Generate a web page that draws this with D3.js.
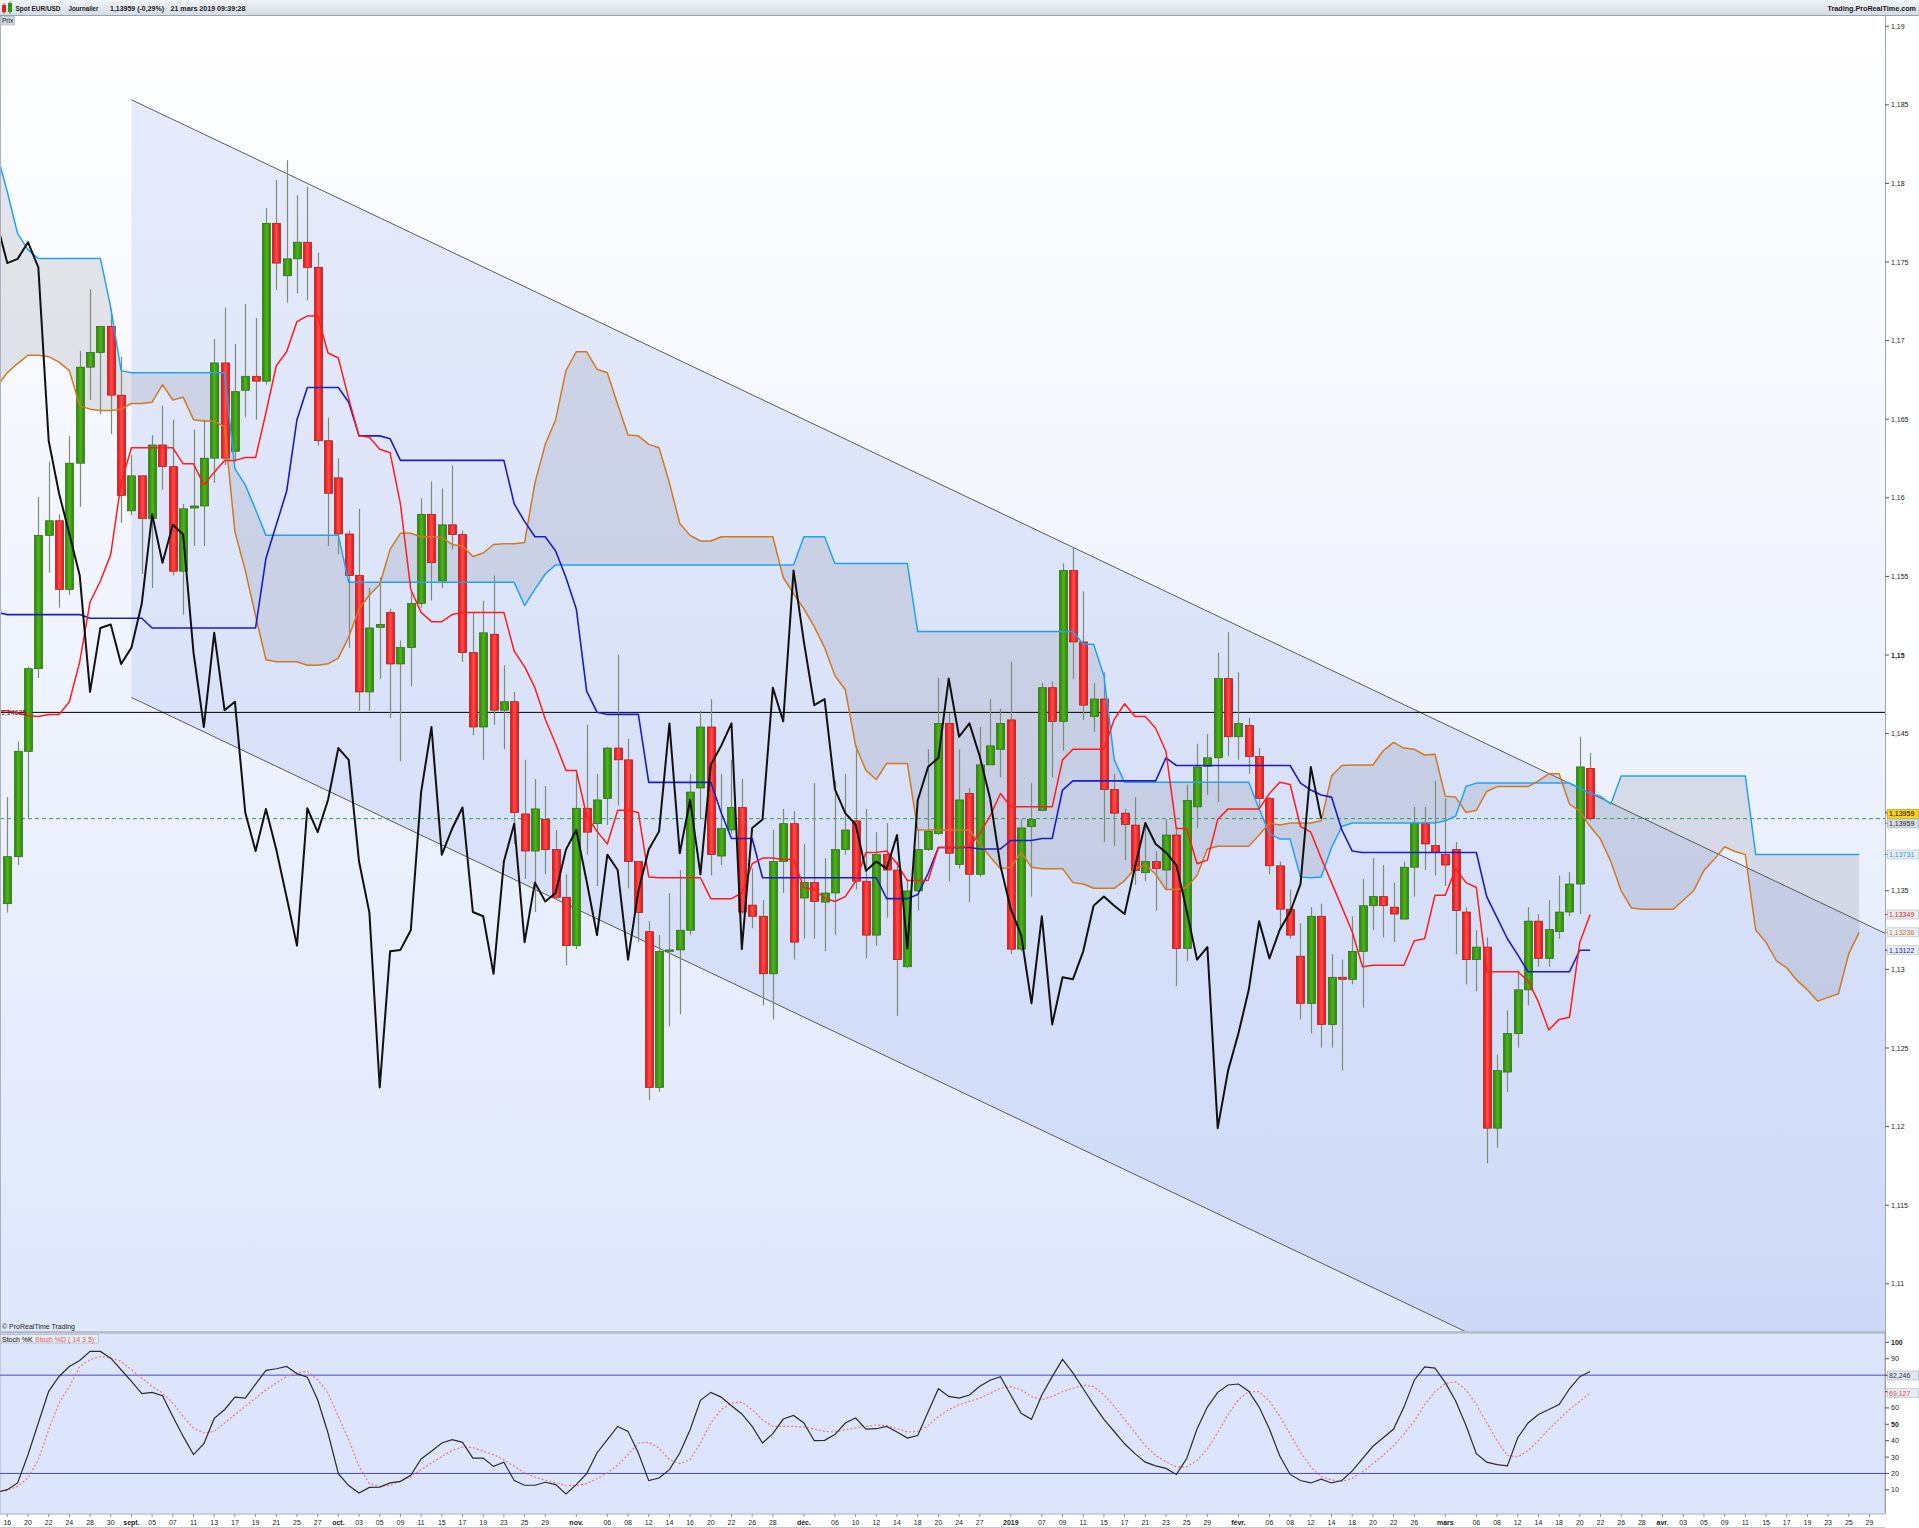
<!DOCTYPE html>
<html><head><meta charset="utf-8">
<script src="https://cdn.jsdelivr.net/npm/d3@7/dist/d3.min.js"></script>
<style>
html,body{margin:0;padding:0;background:#fff;}
svg{display:block;}
text{font-family:"Liberation Sans",Arial,sans-serif;}
</style></head><body>
<svg id="chart" width="1919" height="1528"></svg>
<script>
// ---------------- DATA ----------------
const candleStart = "2018-08-16";   // first candle
const lineStart = "2018-08-15";     // first indicator point
const holidays = ["2018-12-25", "2019-01-01"];

const open = [1.13418,1.13717,1.14387,1.14913,1.15761,1.15854,1.15417,1.16220,1.16831,1.16925,
1.17090,1.16653,1.15917,1.16140,1.15868,1.16336,1.16198,1.15533,1.15935,1.15948,
1.16252,1.16858,1.16296,1.16684,1.16773,1.16742,1.17746,1.17412,1.17520,1.17626,
1.17466,1.16363,1.16127,1.15770,1.15506,1.14765,1.15176,1.15271,1.14943,1.15047,
1.15328,1.15895,1.15471,1.15828,1.15766,1.15015,1.14542,1.15132,1.14649,1.14703,
1.13989,1.13753,1.13954,1.13762,1.13459,1.13151,1.14025,1.13927,1.14087,1.14408,
1.14333,1.13686,1.13240,1.12249,1.13115,1.13124,1.13249,1.14154,1.14542,1.13721,
1.13887,1.14030,1.13409,1.13338,1.12972,1.13686,1.13927,1.13454,1.13552,1.13428,
1.13486,1.13762,1.13945,1.13561,1.13218,1.13730,1.13632,1.13017,1.13499,1.13762,
1.13864,1.14565,1.13668,1.14119,1.13605,1.14301,1.14400,1.14587,1.13129,1.13909,
1.14012,1.14792,1.14578,1.15538,1.15083,1.14609,1.14720,1.14145,1.13994,1.13918,
1.13615,1.13686,1.13632,1.13855,1.13133,1.14034,1.14292,1.14346,1.14850,1.14480,
1.14551,1.14355,1.14087,1.13659,1.13383,1.13084,1.12784,1.13338,1.12650,1.12950,
1.12937,1.13115,1.13405,1.13463,1.13396,1.13320,1.13650,1.13931,1.13789,1.13730,
1.13762,1.13365,1.13062,1.13142,1.11990,1.12347,1.12592,1.12870,1.13307,1.13070,
1.13240,1.13365,1.13543,1.14279];

const high = [1.14096,1.14449,1.14926,1.16006,1.16229,1.15895,1.16394,1.16934,1.17327,1.17094,
1.17201,1.16898,1.16274,1.16140,1.16398,1.16586,1.16497,1.15961,1.16434,1.16497,
1.17010,1.17210,1.16978,1.17233,1.17144,1.17844,1.18023,1.18148,1.17925,1.17978,
1.17559,1.16510,1.16252,1.15792,1.15930,1.15426,1.15493,1.15293,1.15092,1.15404,
1.15997,1.16104,1.16059,1.16207,1.15792,1.15271,1.15346,1.15506,1.14935,1.14765,
1.14333,1.14212,1.14167,1.13887,1.13605,1.14244,1.14556,1.14244,1.14417,1.15002,
1.14467,1.13686,1.13307,1.13218,1.13486,1.13632,1.14244,1.14645,1.14720,1.14244,
1.14333,1.14212,1.13641,1.13441,1.13887,1.14021,1.14007,1.13798,1.14185,1.13708,
1.14199,1.14244,1.14422,1.14021,1.13873,1.13931,1.13686,1.13575,1.13887,1.14400,
1.14854,1.14631,1.14400,1.14154,1.14542,1.14720,1.14658,1.14957,1.13954,1.14185,
1.14823,1.14832,1.15583,1.15685,1.15404,1.14823,1.14890,1.14244,1.14021,1.14096,
1.13931,1.13753,1.13954,1.13900,1.14176,1.14435,1.14498,1.15015,1.15145,1.14890,
1.14600,1.14408,1.14096,1.13686,1.13508,1.13294,1.13396,1.13418,1.13097,1.13062,
1.13338,1.13575,1.13708,1.13664,1.13552,1.13686,1.14034,1.14034,1.14199,1.14087,
1.13811,1.13396,1.13249,1.13204,1.12458,1.12740,1.12995,1.13396,1.13352,1.13441,
1.13597,1.13619,1.14480,1.14378];

const low = [1.13361,1.13664,1.13954,1.14854,1.15524,1.15301,1.15382,1.15943,1.16622,1.16532,
1.16407,1.15841,1.15890,1.15515,1.15426,1.16051,1.15506,1.15257,1.15694,1.15694,
1.16095,1.16207,1.16229,1.16514,1.16497,1.16720,1.17323,1.17242,1.17300,1.17255,
1.16332,1.15694,1.15640,1.15047,1.14645,1.14645,1.14846,1.14600,1.14324,1.14801,
1.15301,1.15346,1.15426,1.15672,1.14957,1.14489,1.14333,1.14556,1.14400,1.13798,
1.13575,1.13365,1.13605,1.13441,1.13026,1.13129,1.13730,1.13530,1.13918,1.14043,
1.13516,1.13173,1.12169,1.12222,1.12637,1.12713,1.13218,1.13954,1.13597,1.13664,
1.13864,1.13352,1.13262,1.12771,1.12682,1.13486,1.13062,1.13195,1.13195,1.13115,
1.13218,1.13730,1.13508,1.13070,1.13151,1.13329,1.12704,1.13008,1.13374,1.13753,
1.13855,1.13561,1.13641,1.13427,1.13588,1.14301,1.14221,1.13097,1.13115,1.13463,
1.14007,1.14221,1.14391,1.14846,1.14587,1.14511,1.13811,1.13784,1.13695,1.13539,
1.13561,1.13374,1.13508,1.12892,1.13053,1.13900,1.14110,1.14065,1.14355,1.14333,
1.14244,1.14034,1.13605,1.13262,1.13195,1.12682,1.12592,1.12503,1.12503,1.12356,
1.12905,1.12757,1.13249,1.13204,1.13173,1.13320,1.13463,1.13632,1.13597,1.13530,
1.13097,1.12905,1.12860,1.11767,1.11865,1.12222,1.12503,1.12771,1.13017,1.13017,
1.13195,1.13338,1.13352,1.13945];

const close = [1.13717,1.14387,1.14913,1.15761,1.15854,1.15417,1.16220,1.16831,1.16925,1.17090,
1.16653,1.16015,1.16140,1.15868,1.16336,1.16198,1.15533,1.15930,1.15948,1.16252,
1.16858,1.16252,1.16675,1.16773,1.16742,1.17746,1.17493,1.17520,1.17626,1.17466,
1.16363,1.16029,1.15770,1.15506,1.14765,1.15172,1.15194,1.14943,1.15047,1.15328,
1.15895,1.15587,1.15828,1.15766,1.15015,1.14542,1.15141,1.14649,1.14703,1.13998,
1.13753,1.14021,1.13762,1.13459,1.13151,1.14025,1.13873,1.14078,1.14408,1.14333,
1.13686,1.13361,1.12249,1.13115,1.13124,1.13249,1.14128,1.14542,1.13730,1.13896,
1.14030,1.13365,1.13338,1.12972,1.13686,1.13927,1.13173,1.13552,1.13432,1.13486,
1.13762,1.13887,1.13561,1.13218,1.13730,1.13632,1.13062,1.13499,1.13762,1.13878,
1.14565,1.13739,1.14078,1.13605,1.14301,1.14422,1.14565,1.13129,1.13900,1.13954,
1.14792,1.14578,1.15538,1.15083,1.14681,1.14720,1.14145,1.13994,1.13922,1.13628,
1.13686,1.13641,1.13855,1.13133,1.14074,1.14288,1.14346,1.14850,1.14480,1.14565,
1.14355,1.14087,1.13659,1.13383,1.13218,1.12784,1.13338,1.12650,1.12950,1.12937,
1.13115,1.13405,1.13463,1.13405,1.13352,1.13650,1.13931,1.13798,1.13744,1.13664,
1.13374,1.13062,1.13142,1.11990,1.12356,1.12592,1.12870,1.13307,1.13070,1.13253,
1.13365,1.13543,1.14288,1.13959];

// Ichimoku (from 2018-08-15)
const tenkan = [1.14645,
1.14645,1.14631,1.14614,1.14609,1.14622,1.14622,1.14703,1.14957,1.15337,1.15471,
1.15640,1.16095,1.16318,1.16318,1.16318,1.16318,1.16318,1.16216,1.16216,1.16082,
1.16162,1.16238,1.16238,1.16256,1.16256,1.16541,1.16840,1.16929,1.17121,1.17157,
1.17157,1.16921,1.16889,1.16631,1.16394,1.16385,1.16309,1.16287,1.15961,1.15417,
1.15271,1.15212,1.15212,1.15257,1.15271,1.15271,1.15271,1.15271,1.15271,1.15024,
1.14926,1.14792,1.14591,1.14435,1.14266,1.14266,1.13976,1.13878,1.13798,1.14012,
1.14012,1.13998,1.13588,1.13583,1.13583,1.13583,1.13583,1.13583,1.13450,1.13450,
1.13450,1.13486,1.13672,1.13708,1.13708,1.13699,1.13699,1.13521,1.13508,1.13454,
1.13432,1.13463,1.13561,1.13744,1.13744,1.13753,1.13672,1.13565,1.13565,1.13565,
1.13775,1.13775,1.13775,1.13784,1.13864,1.13976,1.14119,1.14034,1.14034,1.14034,
1.14034,1.14034,1.14333,1.14400,1.14400,1.14400,1.14400,1.14591,1.14690,1.14609,
1.14609,1.14534,1.14386,1.13896,1.13896,1.13672,1.13695,1.13954,1.14021,1.14021,
1.14021,1.14021,1.14119,1.14190,1.14176,1.13909,1.13873,1.13708,1.13552,1.13396,
1.13240,1.13017,1.13026,1.13026,1.13026,1.13026,1.13182,1.13195,1.13472,1.13472,
1.13641,1.13552,1.13521,1.12985,1.12985,1.12985,1.12985,1.12927,1.12793,1.12615,
1.12682,1.12695,1.13173,1.13349];

const kijun = [1.15271,
1.15257,1.15257,1.15257,1.15257,1.15257,1.15257,1.15257,1.15257,1.15234,1.15234,
1.15234,1.15234,1.15234,1.15234,1.15172,1.15172,1.15172,1.15172,1.15172,1.15172,
1.15172,1.15172,1.15172,1.15172,1.15172,1.15614,1.15828,1.16041,1.16497,1.16702,
1.16702,1.16702,1.16702,1.16608,1.16394,1.16394,1.16394,1.16376,1.16238,1.16238,
1.16238,1.16238,1.16238,1.16238,1.16238,1.16238,1.16238,1.16238,1.16238,1.15961,
1.15850,1.15752,1.15752,1.15662,1.15493,1.15293,1.14770,1.14636,1.14622,1.14622,
1.14622,1.14622,1.14190,1.14190,1.14190,1.14190,1.14190,1.14190,1.14190,1.13998,
1.13833,1.13833,1.13833,1.13583,1.13583,1.13583,1.13583,1.13583,1.13583,1.13583,
1.13583,1.13583,1.13583,1.13583,1.13583,1.13450,1.13450,1.13450,1.13476,1.13610,
1.13775,1.13775,1.13775,1.13775,1.13766,1.13766,1.13766,1.13820,1.13820,1.13820,
1.13833,1.13833,1.14141,1.14199,1.14199,1.14199,1.14199,1.14199,1.14199,1.14199,
1.14199,1.14199,1.14346,1.14297,1.14297,1.14297,1.14297,1.14297,1.14297,1.14297,
1.14297,1.14297,1.14297,1.14297,1.14297,1.14185,1.14141,1.14110,1.14096,1.13887,
1.13753,1.13744,1.13744,1.13744,1.13744,1.13744,1.13744,1.13744,1.13744,1.13744,
1.13744,1.13744,1.13744,1.13463,1.13329,1.13195,1.13092,1.12985,1.12985,1.12985,
1.12985,1.12985,1.13122,1.13122];

const senkouA = [1.16710,
1.16796,1.16854,1.16907,1.16907,1.16898,1.16863,1.16809,1.16586,1.16564,1.16555,
1.16555,1.16564,1.16600,1.16600,1.16608,1.16720,1.16622,1.16640,1.16497,1.16488,
1.16488,1.16452,1.15783,1.15538,1.15248,1.14970,1.14957,1.14957,1.14957,1.14935,
1.14935,1.14944,1.14980,1.15114,1.15293,1.15382,1.15448,1.15672,1.15774,1.15774,
1.15752,1.15752,1.15747,1.15703,1.15694,1.15627,1.15649,1.15703,1.15707,1.15707,
1.15716,1.16095,1.16340,1.16497,1.16809,1.16929,1.16929,1.16818,1.16796,1.16595,
1.16399,1.16394,1.16340,1.16318,1.16095,1.15837,1.15761,1.15725,1.15725,1.15752,
1.15752,1.15752,1.15752,1.15752,1.15752,1.15493,1.15390,1.15293,1.15181,1.15047,
1.14868,1.14779,1.14422,1.14266,1.14208,1.14310,1.14310,1.14310,1.13887,1.13887,
1.13887,1.13887,1.13887,1.13887,1.13798,1.13717,1.13641,1.13650,1.13744,1.13650,
1.13641,1.13641,1.13641,1.13552,1.13543,1.13516,1.13516,1.13516,1.13565,1.13641,
1.13664,1.13605,1.13508,1.13508,1.13521,1.13597,1.13766,1.13784,1.13784,1.13784,
1.13784,1.13855,1.13931,1.13918,1.13931,1.13931,1.13931,1.13945,1.14230,1.14297,
1.14301,1.14301,1.14301,1.14391,1.14444,1.14408,1.14400,1.14364,1.14369,1.14101,
1.14096,1.13998,1.14012,1.14132,1.14163,1.14163,1.14163,1.14163,1.14199,1.14244,
1.14244,1.14052,1.14007,1.13909,1.13829,1.13686,1.13499,1.13390,1.13382,1.13382,
1.13382,1.13382,1.13440,1.13500,1.13630,1.13700,1.13780,1.13750,1.13730,1.13250,
1.13172,1.13055,1.13010,1.12930,1.12870,1.12798,1.12822,1.12845,1.13100,1.13236];

const senkouB = [1.18190,
1.17947,1.17680,1.17577,1.17523,1.17523,1.17523,1.17523,1.17523,1.17523,1.17523,
1.17210,1.16809,1.16796,1.16796,1.16796,1.16796,1.16796,1.16796,1.16796,1.16796,
1.16796,1.16796,1.16185,1.16082,1.15926,1.15761,1.15761,1.15761,1.15761,1.15761,
1.15761,1.15761,1.15761,1.15462,1.15462,1.15462,1.15462,1.15462,1.15462,1.15462,
1.15462,1.15462,1.15462,1.15462,1.15462,1.15462,1.15462,1.15462,1.15462,1.15462,
1.15315,1.15417,1.15515,1.15573,1.15573,1.15573,1.15573,1.15573,1.15573,1.15573,
1.15573,1.15573,1.15573,1.15573,1.15573,1.15573,1.15573,1.15573,1.15573,1.15573,
1.15573,1.15573,1.15573,1.15573,1.15573,1.15573,1.15573,1.15752,1.15752,1.15752,
1.15582,1.15582,1.15582,1.15582,1.15582,1.15582,1.15582,1.15582,1.15149,1.15149,
1.15149,1.15149,1.15149,1.15149,1.15149,1.15149,1.15149,1.15149,1.15149,1.15149,
1.15149,1.15149,1.15149,1.15149,1.15069,1.15069,1.14868,1.14333,1.14190,1.14190,
1.14190,1.14190,1.14190,1.14190,1.14190,1.14190,1.14190,1.14190,1.14190,1.14190,
1.14190,1.14021,1.13864,1.13829,1.13829,1.13588,1.13583,1.13588,1.13775,1.13909,
1.13931,1.13931,1.13931,1.13931,1.13931,1.13931,1.13931,1.13931,1.13931,1.13945,
1.13976,1.14163,1.14185,1.14185,1.14185,1.14185,1.14185,1.14185,1.14185,1.14185,
1.14185,1.14185,1.14154,1.14119,1.14101,1.14052,1.14231,1.14231,1.14231,1.14231,
1.14231,1.14231,1.14231,1.14231,1.14231,1.14231,1.14231,1.14231,1.14231,1.13731,
1.13731,1.13731,1.13731,1.13731,1.13731,1.13731,1.13731,1.13731,1.13731,1.13731];

const chikouShift = 26;

// Stochastic (14 3 5), from 2018-08-15
const stochK = [8.5,
10.1,14.2,31.4,50.8,70.1,79.2,85.3,89.0,94.5,94.5,
90.4,83.3,76.2,68.7,69.5,67.4,54.8,42.6,31.5,38.2,
53.6,58.9,66.6,66.0,74.5,82.9,83.9,85.3,80.9,78.8,
65.0,44.7,19.9,12.6,8.1,11.5,11.7,14.2,15.2,18.9,
28.8,33.5,38.6,40.6,39.0,29.4,29.4,24.3,26.8,15.6,
12.8,12.8,14.6,13.2,7.5,13.2,19.9,32.5,40.6,48.7,
45.7,32.5,15.6,17.2,22.3,32.5,46.7,64.6,69.5,66.6,
61.3,56.3,48.7,38.6,44.3,53.2,55.4,50.8,40.0,40.2,
43.7,50.8,53.8,47.1,47.3,48.7,45.3,41.6,43.1,57.5,
71.7,67.0,66.0,67.9,73.2,76.9,79.1,67.9,56.7,53.0,
67.9,79.1,89.6,81.4,71.7,62.0,53.0,45.6,38.1,32.1,
26.9,24.6,23.1,19.4,29.1,47.1,60.5,69.5,74.0,74.6,
70.2,60.5,47.1,30.6,19.4,15.7,14.2,16.5,14.2,15.7,
21.6,29.1,36.6,41.8,47.1,60.5,76.9,85.1,84.3,75.4,
64.2,49.3,32.1,26.9,25.4,24.6,41.8,50.8,56.0,59.0,
62.0,71.7,79.1,82.246];

const stochD = [9.0,
9.7,12.1,17.2,28.4,46.7,63.0,73.1,85.3,89.4,91.4,
90.4,88.4,83.3,78.2,73.1,69.1,63.0,54.8,47.7,44.7,
45.7,50.8,55.9,60.9,66.0,71.1,75.2,79.2,81.6,82.3,
77.2,69.1,54.8,40.6,24.3,13.8,12.1,12.8,15.2,18.3,
22.3,26.4,30.4,34.1,36.1,35.9,33.5,31.5,28.4,24.3,
20.3,17.8,15.8,14.2,12.8,12.6,13.8,16.8,20.3,25.0,
31.5,38.6,39.0,35.5,28.4,26.0,28.4,38.6,50.8,58.9,
63.0,63.6,58.9,52.8,48.7,48.7,48.7,48.3,47.1,45.7,
45.3,46.7,47.7,48.7,49.6,49.2,47.3,45.3,45.7,49.2,
54.8,58.9,62.0,64.0,66.0,69.0,72.0,73.0,71.0,67.0,
65.0,67.0,70.0,72.0,74.0,73.0,68.0,61.0,53.0,45.0,
37.0,31.0,27.0,24.0,24.0,28.0,35.0,45.0,56.0,65.0,
70.0,70.0,64.0,55.0,44.0,33.0,24.0,18.0,16.0,15.0,
17.0,21.0,26.0,31.0,37.0,44.0,52.0,62.0,70.0,75.0,
76.0,71.0,62.0,51.0,40.0,31.0,30.0,34.0,40.0,47.0,
53.0,59.0,64.0,69.127];

// Trend channel anchors [date, price]
const channelTop = [["2018-09-03", 1.18532], ["2019-03-21", 1.14121]];
const channelBottom = [["2018-09-03", 1.14730], ["2019-03-21", 1.10319]];
const levelLine = 1.14635;
const lastPrice = 1.13959;

const priceTicks = [1.19,1.185,1.18,1.175,1.17,1.165,1.16,1.155,1.15,1.145,1.14,1.135,1.13,1.125,1.12,1.115,1.11];
const priceTickLabels = ["1,19","1,185","1,18","1,175","1,17","1,165","1,16","1,155","1,15","1,145","1,14","1,135","1,13","1,125","1,12","1,115","1,11"];
const stochTicks = [100,90,80,70,60,50,40,30,20,10];
const stochLevels = [80, 20];

const headerTexts = ["Spot EUR/USD", "Journalier", "1,13959 (-0,29%)", "21 mars 2019 09:39:28"];
const headerRight = "Trading.ProRealTime.com";

const tickDates = ["2018-08-16","2018-08-20","2018-08-22","2018-08-24","2018-08-28","2018-08-30",
"2018-09-03","2018-09-05","2018-09-07","2018-09-11","2018-09-13","2018-09-17","2018-09-19","2018-09-21","2018-09-25","2018-09-27",
"2018-10-01","2018-10-03","2018-10-05","2018-10-09","2018-10-11","2018-10-15","2018-10-17","2018-10-19","2018-10-23","2018-10-25","2018-10-29",
"2018-11-01","2018-11-06","2018-11-08","2018-11-12","2018-11-14","2018-11-16","2018-11-20","2018-11-22","2018-11-26","2018-11-28",
"2018-12-03","2018-12-06","2018-12-10","2018-12-12","2018-12-14","2018-12-18","2018-12-20","2018-12-24","2018-12-27",
"2019-01-02","2019-01-07","2019-01-09","2019-01-11","2019-01-15","2019-01-17","2019-01-21","2019-01-23","2019-01-25","2019-01-29",
"2019-02-01","2019-02-06","2019-02-08","2019-02-12","2019-02-14","2019-02-18","2019-02-20","2019-02-22","2019-02-26",
"2019-03-01","2019-03-06","2019-03-08","2019-03-12","2019-03-14","2019-03-18","2019-03-20","2019-03-22","2019-03-26","2019-03-28",
"2019-04-01","2019-04-03","2019-04-05","2019-04-09","2019-04-11","2019-04-15","2019-04-17","2019-04-19","2019-04-23","2019-04-25","2019-04-29"];
const tickLabels = ["16","20","22","24","28","30",
"sept.","05","07","11","13","17","19","21","25","27",
"oct.","03","05","09","11","15","17","19","23","25","29",
"nov.","06","08","12","14","16","20","22","26","28",
"déc.","06","10","12","14","18","20","24","27",
"2019","07","09","11","15","17","21","23","25","29",
"févr.","06","08","12","14","18","20","22","26",
"mars","06","08","12","14","18","20","22","26","28",
"avr.","03","05","09","11","15","17","19","23","25","29"];

// ---------------- LAYOUT ----------------
const W = 1919, H = 1528, PR = 1885;
const MAIN_T = 16, MAIN_B = 1331, ST_T = 1333, ST_B = 1514;

const days = [];
for (let t = Date.UTC(2018, 7, 15); t <= Date.UTC(2019, 3, 30); t += 864e5) {
  const d = new Date(t), wd = d.getUTCDay(), s = d.toISOString().slice(0, 10);
  if (wd !== 0 && wd !== 6 && !holidays.includes(s)) days.push(s);
}
const origin = days.indexOf(candleStart);
const idx = s => days.indexOf(s) - origin;
const c0 = idx(candleStart), l0 = idx(lineStart);

const x = d3.scaleLinear().domain([-0.7056, 181.5]).range([0, PR]);
const y = d3.scaleLinear().domain([1.11, 1.19]).range([1283.8, 26.2]);
const ys = d3.scaleLinear().domain([0, 100]).range([1506.2, 1342.4]);

const svg = d3.select("#chart");
const defs = svg.append("defs");
function lg(id, stops, vertical) {
  const g = defs.append("linearGradient").attr("id", id)
    .attr("x1", 0).attr("y1", 0).attr("x2", vertical ? 0 : 1).attr("y2", vertical ? 1 : 0);
  stops.forEach(s => g.append("stop").attr("offset", s[0]).attr("stop-color", s[1]));
}
lg("bg", [[0, "#ffffff"], [1, "#dfe7fb"]], true);
lg("hdr", [[0, "#f2f5f8"], [1, "#d2dae4"]], true);
lg("gbody", [[0, "#2a8608"], [0.5, "#4fb21d"], [1, "#2a8608"]], false);
lg("rbody", [[0, "#e41212"], [0.5, "#ff4c4c"], [1, "#e41212"]], false);
defs.append("clipPath").attr("id", "clipMain").append("rect")
  .attr("x", 0).attr("y", MAIN_T).attr("width", PR).attr("height", MAIN_B - MAIN_T);
defs.append("clipPath").attr("id", "clipSt").append("rect")
  .attr("x", 0).attr("y", ST_T).attr("width", PR).attr("height", ST_B - ST_T);

svg.append("rect").attr("width", W).attr("height", H).attr("fill", "#ffffff");

// main panel
svg.append("rect").attr("x", 0).attr("y", MAIN_T).attr("width", PR).attr("height", MAIN_B - MAIN_T).attr("fill", "url(#bg)");
const gm = svg.append("g").attr("clip-path", "url(#clipMain)");

// channel
function chanAt(anchors, i) {
  const i1 = idx(anchors[0][0]), i2 = idx(anchors[1][0]);
  return anchors[0][1] + (anchors[1][1] - anchors[0][1]) * (i - i1) / (i2 - i1);
}
const cs = idx(channelTop[0][0]), ce = 181.5;
gm.append("path")
  .attr("d", d3.line()([[x(cs), y(chanAt(channelTop, cs))], [x(ce), y(chanAt(channelTop, ce))],
    [x(ce), y(chanAt(channelBottom, ce))], [x(cs), y(chanAt(channelBottom, cs))]]) + "Z")
  .attr("fill", "rgba(140,165,235,0.20)");

// cloud
const cloud = senkouA.map((a, k) => ({ i: l0 + k, a: a, b: senkouB[k] }));
gm.append("path").datum(cloud)
  .attr("d", d3.area().x(d => x(d.i)).y0(d => y(d.a)).y1(d => y(d.b)))
  .attr("fill", "rgba(115,115,130,0.17)");

[channelTop, channelBottom].forEach(ch => {
  gm.append("line").attr("x1", x(cs)).attr("y1", y(chanAt(ch, cs)))
    .attr("x2", x(ce)).attr("y2", y(chanAt(ch, ce)))
    .attr("stroke", "#4a4a4a").attr("stroke-width", 0.9);
});

// horizontal level lines
gm.append("line").attr("x1", 0).attr("x2", PR).attr("y1", y(levelLine)).attr("y2", y(levelLine))
  .attr("stroke", "#000").attr("stroke-width", 1);
gm.append("line").attr("x1", 0).attr("x2", PR).attr("y1", y(lastPrice)).attr("y2", y(lastPrice))
  .attr("stroke", "#2aa24e").attr("stroke-width", 1).attr("stroke-dasharray", "4,3");

// candles
const candles = open.map((o, k) => ({ i: c0 + k, o: o, h: high[k], l: low[k], c: close[k] }));
const cg = gm.append("g");
cg.selectAll("line.wick").data(candles).join("line").attr("class", "wick")
  .attr("x1", d => Math.round(x(d.i)) + 0.5).attr("x2", d => Math.round(x(d.i)) + 0.5)
  .attr("y1", d => y(d.h)).attr("y2", d => y(d.l))
  .attr("stroke", "#7c8c7c").attr("stroke-width", 1.2);
cg.selectAll("rect.body").data(candles).join("rect").attr("class", "body")
  .attr("x", d => Math.round(x(d.i)) - 3.5).attr("width", 8)
  .attr("y", d => y(Math.max(d.o, d.c)))
  .attr("height", d => Math.max(1.2, Math.abs(y(d.o) - y(d.c))))
  .attr("fill", d => d.c >= d.o ? "url(#gbody)" : "url(#rbody)")
  .attr("stroke", d => d.c >= d.o ? "#2c6a12" : "#a81414").attr("stroke-width", 0.7);

// indicator lines
const ln = d3.line().x(d => x(d[0])).y(d => y(d[1]));
function series(arr, start) { return arr.map((v, k) => [start + k, v]); }
function drawLine(data, color, w) {
  gm.append("path").datum(data).attr("d", ln).attr("fill", "none")
    .attr("stroke", color).attr("stroke-width", w).attr("stroke-linejoin", "round");
}
drawLine(series(senkouB, l0), "#20a4f2", 1.5);
drawLine(series(senkouA, l0), "#d07a22", 1.5);
drawLine(series(kijun, l0), "#1c1cc8", 1.6);
drawLine(series(tenkan, l0), "#ff1c1c", 1.5);
const chikou = [];
for (let k = 0; k < close.length; k++) chikou.push([c0 + k - chikouShift, close[k]]);
drawLine(chikou.filter(d => d[0] >= -1), "#111111", 2);

// left level label
svg.append("text").attr("x", 1).attr("y", y(levelLine) + 2.5).attr("font-size", 7)
  .attr("fill", "#6a2020").text("1,14635");

// main panel frame
svg.append("line").attr("x1", 0.5).attr("x2", 0.5).attr("y1", MAIN_T).attr("y2", ST_B).attr("stroke", "#a9b3c0");
svg.append("text").attr("x", 2).attr("y", 1329).attr("font-size", 7).attr("fill", "#222").text("© ProRealTime Trading");

// ---------- stochastic panel ----------
svg.append("rect").attr("x", 0).attr("y", MAIN_B).attr("width", PR).attr("height", 2).attr("fill", "#b8c2d0");
svg.append("rect").attr("x", 0).attr("y", ST_T).attr("width", PR).attr("height", ST_B - ST_T)
  .attr("fill", "#dce5fb").attr("stroke", "#a9b3c0").attr("stroke-width", 1);
const gs = svg.append("g").attr("clip-path", "url(#clipSt)");
stochLevels.forEach(v => gs.append("line").attr("x1", 0).attr("x2", PR).attr("y1", ys(v)).attr("y2", ys(v))
  .attr("stroke", "#4848d8").attr("stroke-width", 1));
const lns = d3.line().x(d => x(d[0])).y(d => ys(d[1]));
gs.append("path").datum(series(stochD, l0)).attr("d", lns).attr("fill", "none")
  .attr("stroke", "#f07a7a").attr("stroke-width", 1.2).attr("stroke-dasharray", "2,2");
gs.append("path").datum(series(stochK, l0)).attr("d", lns).attr("fill", "none")
  .attr("stroke", "#2b2b2b").attr("stroke-width", 1.2);
const sl = svg.append("g");
sl.append("rect").attr("x", 0.5).attr("y", 1334.5).attr("width", 98).attr("height", 8.5)
  .attr("fill", "#e6ebf2").attr("stroke", "#a8b0bc").attr("stroke-width", 0.6);
sl.append("text").attr("x", 2).attr("y", 1341.5).attr("font-size", 7).attr("fill", "#111").text("Stoch %K");
sl.append("text").attr("x", 35).attr("y", 1341.5).attr("font-size", 7).attr("fill", "#e06060").text("Stoch %D ( 14 3 5)");

// ---------- x axis ----------
const xa = svg.append("g");
tickDates.forEach((s, k) => {
  const xi = x(idx(s));
  const bold = isNaN(+tickLabels[k]) || tickLabels[k] === "2019";
  xa.append("line").attr("x1", xi).attr("x2", xi).attr("y1", ST_B).attr("y2", ST_B + 3).attr("stroke", "#8a94a2");
  xa.append("text").attr("x", xi).attr("y", 1525).attr("text-anchor", "middle")
    .attr("font-size", 7).attr("font-weight", bold ? "bold" : "normal").attr("fill", "#222")
    .text(tickLabels[k]);
});
svg.append("line").attr("x1", 0).attr("x2", W).attr("y1", H - 0.5).attr("y2", H - 0.5).attr("stroke", "#c2c8d2");

// ---------- right axis ----------
svg.append("rect").attr("x", PR).attr("y", MAIN_T).attr("width", W - PR).attr("height", H - MAIN_T).attr("fill", "#ffffff");
svg.append("line").attr("x1", PR + 0.5).attr("x2", PR + 0.5).attr("y1", MAIN_T).attr("y2", ST_B).attr("stroke", "#9aa4b2");

const fmt = v => v.toFixed(5).replace(".", ",");
const kLast = stochK[stochK.length - 1], dLast = stochD[stochD.length - 1];
const priceTags = [
  [y(lastPrice) - 4.8, fmt(lastPrice), "#ffd21a", "#c8a000", "#000", "#888"],
  [y(lastPrice) + 4.8, fmt(close[close.length - 1]), "#d6dbe4", "#a8b0bc", "#222", "#888"],
  [y(senkouB[senkouB.length - 1]), fmt(senkouB[senkouB.length - 1]), "#eaeef5", "#b8c0cc", "#1e9ae8", "#20a4f2"],
  [y(tenkan[tenkan.length - 1]), fmt(tenkan[tenkan.length - 1]), "#eaeef5", "#b8c0cc", "#e02020", "#ff1c1c"],
  [y(senkouA[senkouA.length - 1]), fmt(senkouA[senkouA.length - 1]), "#eaeef5", "#b8c0cc", "#c8761e", "#d07a22"],
  [y(kijun[kijun.length - 1]), fmt(kijun[kijun.length - 1]), "#eaeef5", "#b8c0cc", "#2020c0", "#1c1cc8"],
  [ys(kLast) + 4, kLast.toFixed(3).replace(".", ","), "#e2e7f0", "#a8b0bc", "#334", "#555"],
  [ys(dLast), dLast.toFixed(3).replace(".", ","), "#e8ebf2", "#b8c0cc", "#e05050", "#f07a7a"]
];
const hidden = yy => priceTags.some(t => Math.abs(t[0] - yy) < 8);

priceTicks.forEach((p, k) => {
  const yy = y(p);
  svg.append("line").attr("x1", PR).attr("x2", PR + 4).attr("y1", yy).attr("y2", yy).attr("stroke", "#555");
  if (!hidden(yy)) svg.append("text").attr("x", PR + 6).attr("y", yy + 2.5).attr("font-size", 7)
    .attr("font-weight", p === 1.15 ? "bold" : "normal").attr("fill", "#222").text(priceTickLabels[k]);
});
stochTicks.forEach(v => {
  const yy = ys(v);
  svg.append("line").attr("x1", PR).attr("x2", PR + 4).attr("y1", yy).attr("y2", yy).attr("stroke", "#555");
  if (!hidden(yy)) svg.append("text").attr("x", PR + 6).attr("y", yy + 2.5).attr("font-size", 7)
    .attr("font-weight", (v === 100 || v === 50) ? "bold" : "normal").attr("fill", "#222").text(v);
});

// value tags
priceTags.forEach(t => {
  const [yc, txt, fill, stroke, color, tickColor] = t;
  svg.append("line").attr("x1", PR).attr("x2", PR + 3).attr("y1", yc).attr("y2", yc).attr("stroke", tickColor);
  svg.append("rect").attr("x", PR + 2.5).attr("y", yc - 4.5).attr("width", 31).attr("height", 9)
    .attr("fill", fill).attr("stroke", stroke).attr("stroke-width", 0.7);
  svg.append("text").attr("x", PR + 4).attr("y", yc + 2.6).attr("font-size", 7).attr("fill", color).text(txt);
});

// ---------- header ----------
svg.append("rect").attr("x", 0).attr("y", 0).attr("width", W).attr("height", MAIN_T).attr("fill", "url(#hdr)");
svg.append("line").attr("x1", 0).attr("x2", W).attr("y1", MAIN_T - 0.5).attr("y2", MAIN_T - 0.5).attr("stroke", "#97a3b2");
svg.append("rect").attr("x", 2).attr("y", 5).attr("width", 4).attr("height", 7).attr("fill", "#e02020");
svg.append("line").attr("x1", 4).attr("x2", 4).attr("y1", 3).attr("y2", 14).attr("stroke", "#e02020").attr("stroke-width", 0.8);
svg.append("rect").attr("x", 8).attr("y", 3).attr("width", 4).attr("height", 9).attr("fill", "#2e9a12");
svg.append("line").attr("x1", 10).attr("x2", 10).attr("y1", 1).attr("y2", 14).attr("stroke", "#2e9a12").attr("stroke-width", 0.8);
const hdrX = [15.5, 68.5, 110, 170.5], hdrW = [45, 30, 54, 75];
headerTexts.forEach((t, k) => svg.append("text").attr("x", hdrX[k]).attr("y", 10.5).attr("font-size", 7.2)
  .attr("font-weight", "bold").attr("fill", "#1a1a1a")
  .attr("textLength", hdrW[k]).attr("lengthAdjust", "spacingAndGlyphs").text(t));
svg.append("text").attr("x", 1916).attr("y", 10.5).attr("font-size", 7.2).attr("font-weight", "bold")
  .attr("text-anchor", "end").attr("fill", "#1a1a1a").text(headerRight);
svg.append("rect").attr("x", 0.5).attr("y", MAIN_T + 0.5).attr("width", 14).attr("height", 8.5)
  .attr("fill", "#d3dae3").attr("stroke", "#a6afbc").attr("stroke-width", 0.6);
svg.append("text").attr("x", 2).attr("y", MAIN_T + 7.2).attr("font-size", 6.5).attr("fill", "#222").text("Prix");
</script>
</body></html>
